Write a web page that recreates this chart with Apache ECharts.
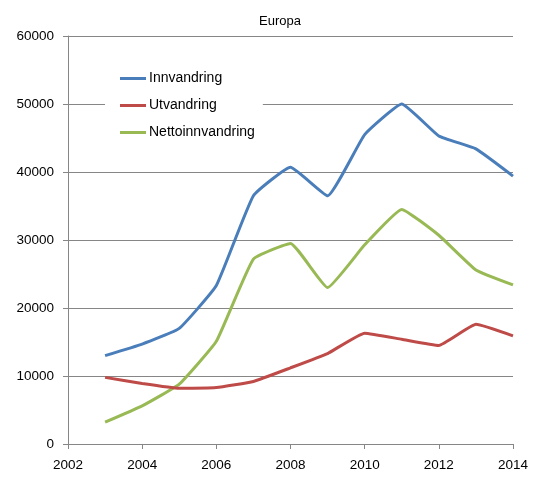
<!DOCTYPE html>
<html>
<head>
<meta charset="utf-8">
<script src="https://cdn.jsdelivr.net/npm/echarts@6/dist/echarts.min.js"></script>
<style>html,body{margin:0;padding:0;background:#fff;}#c{width:560px;height:482px;}</style>
</head>
<body>
<div id="c"></div>
<script>
var years = [2003, 2004, 2005, 2006, 2007, 2008, 2009, 2010, 2011, 2012, 2013, 2014];
var innvandring = [13000, 14700, 17000, 23300, 36500, 40700, 36500, 45500, 50000, 45300, 43400, 39400];
var utvandring = [9800, 8900, 8200, 8300, 9200, 11200, 13300, 16300, 15400, 14500, 17600, 15900];
var netto = [3200, 5600, 8800, 15100, 27200, 29500, 23000, 29300, 34500, 30700, 25600, 23400];
var seriesNames = ['Innvandring', 'Utvandring', 'Nettoinnvandring'];
var colors = ['#4a7ebb', '#be4b48', '#98b954'];

function pairs(vals) { return years.map(function (y, i) { return [y, vals[i]]; }); }

var font = 'Liberation Sans';
var chart = echarts.init(document.getElementById('c'), null, {renderer: 'canvas'});
chart.setOption({
  animation: false,
  backgroundColor: '#fff',
  title: {
    text: 'Europa', left: 'center', top: 10,
    textStyle: {fontFamily: font, fontSize: 13, fontWeight: 'normal', color: '#000'}
  },
  legend: {
    orient: 'vertical', left: 105, top: 65,
    backgroundColor: '#fff',
    padding: [6, 8, 6, 15],
    itemGap: 12,
    itemWidth: 26, itemHeight: 3,
    icon: 'rect',
    data: seriesNames,
    textStyle: {fontFamily: font, fontSize: 14, color: '#000', lineHeight: 15, padding: [0, 0, 0, -2]}
  },
  grid: {left: 68, right: 47, top: 36, bottom: 38, containLabel: false},
  xAxis: {
    type: 'value', min: 2002, max: 2014, interval: 2,
    axisLine: {show: true, lineStyle: {color: '#868686', width: 1}},
    axisTick: {show: true, length: 5, lineStyle: {color: '#868686'}},
    axisLabel: {fontFamily: font, fontSize: 13.5, color: '#000', margin: 14, formatter: function (v) { return String(v); }},
    splitLine: {show: false}
  },
  yAxis: {
    type: 'value', min: 0, max: 60000, interval: 10000,
    axisLine: {show: true, lineStyle: {color: '#868686', width: 1}},
    axisTick: {show: true, length: 5, lineStyle: {color: '#868686'}},
    axisLabel: {fontFamily: font, fontSize: 13.5, color: '#000', margin: 14, formatter: function (v) { return String(v); }},
    splitLine: {show: true, lineStyle: {color: '#868686', width: 1}}
  },
  series: [innvandring, utvandring, netto].map(function (vals, i) {
    return {
      name: seriesNames[i], type: 'line', data: pairs(vals),
      smooth: 0.12, showSymbol: false, symbol: 'none',
      lineStyle: {color: colors[i], width: 3},
      itemStyle: {color: colors[i]},
      z: 3 - i
    };
  })
});
</script>
</body>
</html>
